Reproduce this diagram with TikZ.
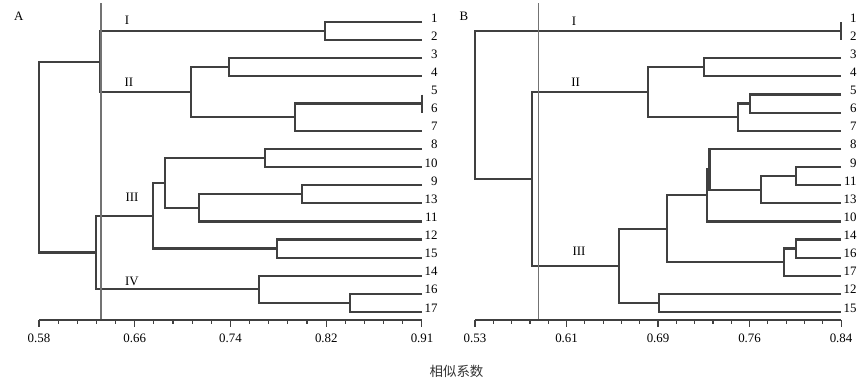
\documentclass[tikz,border=0pt]{standalone}
\usepackage{fontspec}
\setmainfont{Liberation Serif}
\newfontfamily\cjk{Noto Sans CJK SC}
\usepackage{xcolor}
\usepackage{tikz}
\usetikzlibrary{calc}
\definecolor{BranchColor}{rgb}{0.25,0.25,0.25}
\definecolor{CutColor}{rgb}{0.45,0.45,0.45}
\definecolor{AxisColor}{rgb}{0.25,0.25,0.25}
\tikzset{
    branch/.style={draw=BranchColor, line width=1.9pt, line join=miter},
    cutline/.style={draw=CutColor, line width=1.3pt},
    axisline/.style={draw=AxisColor, line width=1pt},
    leaflab/.style={anchor=base east, inner sep=0pt, xshift=0.47cm, font=\fontsize{11}{13}\selectfont},
    grouplab/.style={inner sep=0pt, font=\fontsize{11}{13}\selectfont},
    ticklab/.style={inner sep=0pt, font=\fontsize{11}{13}\selectfont},
    panelA/.style={x=34.818cm, xshift=-19.0245cm, y=-0.54375cm, yshift=-0.11625cm},
    panelB/.style={x=35.419cm, xshift=-4.522cm, y=-0.54375cm, yshift=-0.11625cm}
}
% bracket joining two clusters at a given similarity
\newcommand{\joinclust}[4]{%
    \path (#3) -- (#4) coordinate[pos=0.5] (#1m);
    \coordinate (#1) at (#2,0 |- #1m);
    \draw[branch] (#3) -- (#3 -| #1) -- (#4 -| #1) -- (#4);
}

\begin{document}
\begin{tikzpicture}[x=0.03cm, y=-0.03cm]
\useasboundingbox (0,0) rectangle (861,385);

% Panel letters
\node[grouplab] (pA) at (18.7,16) {A};
\node[grouplab] (pB) at (464,16) {B};

% Panel A
\begin{scope}[panelA]
\foreach \lab [count=\r] in {1,2,3,4,5,6,7,8,10,9,13,11,12,15,14,16,17} {
    \coordinate (la\lab) at (0.91,\r);
    \node[leaflab] (ta\lab) at (la\lab) {\lab};
}
\joinclust{ma12}{0.8264}{la1}{la2}
\joinclust{ma34}{0.7437}{la3}{la4}
\joinclust{ma56}{0.91}{la5}{la6}
\joinclust{ma567}{0.8006}{ma56}{la7}
\joinclust{maII}{0.7107}{ma34}{ma567}
\joinclust{maI2}{0.6326}{ma12}{maII}
\joinclust{ma810}{0.7747}{la8}{la10}
\joinclust{ma913}{0.8063}{la9}{la13}
\joinclust{ma911}{0.7179}{ma913}{la11}
\joinclust{ma8x}{0.6886}{ma810}{ma911}
\joinclust{ma1215}{0.7848}{la12}{la15}
\joinclust{maIII}{0.6785}{ma8x}{ma1215}
\joinclust{ma1617}{0.8480}{la16}{la17}
\joinclust{maIV}{0.7696}{la14}{ma1617}
\joinclust{ma34g}{0.6289}{maIII}{maIV}
\joinclust{maroot}{0.58}{maI2}{ma34g}

% cut line
\coordinate (cutAtop) at (0.6335,-0.03);
\coordinate (cutAbot) at (0.6335,17.44);
\draw[cutline] (cutAtop) -- (cutAbot);

% groups
\node[grouplab] (gAI) at (0.6558,0.89) {I};
\node[grouplab] (gAII) at (0.6575,4.31) {II};
\node[grouplab] (gAIII) at (0.6601,10.66) {III};
\node[grouplab] (gAIV) at (0.6601,15.29) {IV};

% axis
\draw[axisline] (0.58,17.44) -- (0.91,17.44);
\foreach \i in {0,...,20} {
    \pgfmathsetmacro\tl{mod(\i,5)==0 ? 0.37 : 0.22}
    \draw[axisline] ({0.58+\i*0.0165},17.44) -- ++(0,\tl);
}
\foreach \tv [count=\k from 0] in {0.58,0.66,0.74,0.82,0.91}
    \node[ticklab] (kA\k) at ({0.58+\k*0.0825},18.45) {\tv};
\end{scope}

% Panel B
\begin{scope}[panelB]
\foreach \lab [count=\r] in {1,2,3,4,5,6,7,8,9,11,13,10,14,16,17,12,15} {
    \coordinate (lb\lab) at (0.84,\r);
    \node[leaflab] (tb\lab) at (lb\lab) {\lab};
}
\joinclust{mb12}{0.84}{lb1}{lb2}
\joinclust{mb34}{0.7242}{lb3}{lb4}
\joinclust{mb56}{0.7629}{lb5}{lb6}
\joinclust{mb567}{0.7530}{mb56}{lb7}
\joinclust{mbII}{0.6763}{mb34}{mb567}
\joinclust{mb911}{0.8016}{lb9}{lb11}
\joinclust{mb913}{0.7722}{mb911}{lb13}
\joinclust{mb8x}{0.7285}{lb8}{mb913}
\joinclust{mb810}{0.7265}{mb8x}{lb10}
\joinclust{mb1416}{0.8016}{lb14}{lb16}
\joinclust{mb1417}{0.7917}{mb1416}{lb17}
\joinclust{mbup}{0.6924}{mb810}{mb1417}
\joinclust{mb1215}{0.6859}{lb12}{lb15}
\joinclust{mbIII}{0.6520}{mbup}{mb1215}
\joinclust{mb23g}{0.5780}{mbII}{mbIII}
\joinclust{mbroot}{0.53}{mb12}{mb23g}

% cut line
\coordinate (cutBtop) at (0.5836,-0.03);
\coordinate (cutBbot) at (0.5836,17.44);
\draw[cutline] (cutBtop) -- (cutBbot);

% groups
\node[grouplab] (gBI) at (0.6139,0.945) {I};
\node[grouplab] (gBII) at (0.6153,4.31) {II};
\node[grouplab] (gBIII) at (0.6181,13.67) {III};

% axis
\draw[axisline] (0.53,17.44) -- (0.84,17.44);
\foreach \i in {0,...,20} {
    \pgfmathsetmacro\tl{mod(\i,5)==0 ? 0.37 : 0.22}
    \draw[axisline] ({0.53+\i*0.0155},17.44) -- ++(0,\tl);
}
\foreach \tv [count=\k from 0] in {0.53,0.61,0.69,0.76,0.84}
    \node[ticklab] (kB\k) at ({0.53+\k*0.0775},18.45) {\tv};
\end{scope}

% axis title
\node[font=\cjk\fontsize{11.5}{14}\selectfont, text=black!80] (xtitle) at (456.5,371) {相似系数};

\end{tikzpicture}
\end{document}
